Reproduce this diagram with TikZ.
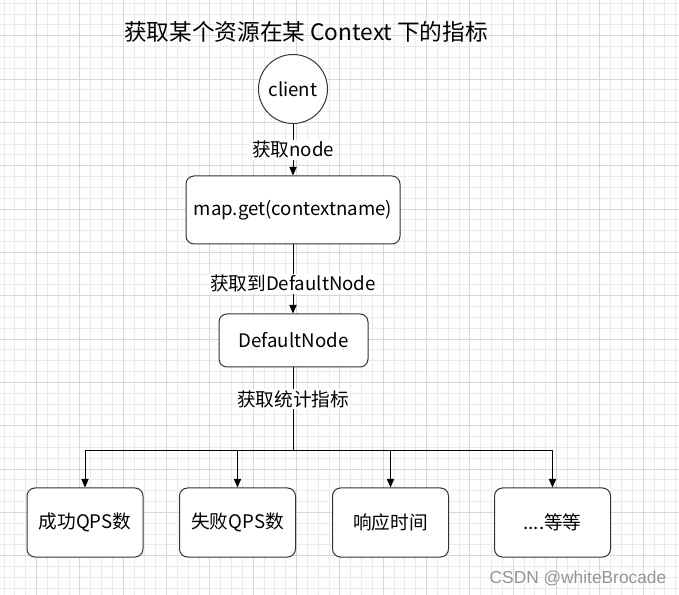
\documentclass[tikz,border=0pt]{standalone}
\usepackage{fontspec}
\setmainfont{Noto Sans CJK SC}
\newfontfamily\wmfont{Liberation Sans}
\usetikzlibrary{arrows.meta}
\definecolor{minorgrid}{HTML}{EBEBEB}
\definecolor{majorgrid}{HTML}{D8D8D8}
\definecolor{edgecol}{HTML}{333333}
\begin{document}
\begin{tikzpicture}[x=0.75pt,y=-0.75pt,
  txt/.style={font=\fontsize{14}{16}\selectfont},
  circ/.style={circle,draw=edgecol,line width=0.75pt,fill=white,minimum size=51.75pt,inner sep=0pt,txt},
  rbox/.style={rectangle,rounded corners=6pt,draw=edgecol,line width=0.75pt,fill=white,inner sep=0pt,txt},
  leaf/.style={rbox,minimum width=87pt,minimum height=51.75pt},
  lbl/.style={fill=white,inner sep=1pt,txt},
  arr/.style={draw=black,line width=0.75pt,-{Triangle[length=6.5pt,width=5.5pt]}},
  ln/.style={draw=black,line width=0.75pt}]
\useasboundingbox (0,0) rectangle (679,595);
\fill[white] (0,0) rectangle (679,595);
% grid (1px strips snapped to pixel rows/columns)
\foreach \k in {1,...,63} {\pgfmathsetmacro{\gx}{round(-7.33+10.8333*\k)}\fill[minorgrid] (\gx,0) rectangle (\gx+1,595);}
\foreach \k in {1,...,55} {\pgfmathsetmacro{\gy}{round(-8+10.8333*\k)}\fill[minorgrid] (0,\gy) rectangle (679,\gy+1);}
\foreach \k in {1,...,15} {\pgfmathsetmacro{\gx}{round(-7.33+43.3333*\k)}\fill[majorgrid] (\gx,0) rectangle (\gx+1,595);}
\foreach \k in {1,...,13} {\pgfmathsetmacro{\gy}{round(-8+43.3333*\k)}\fill[majorgrid] (0,\gy) rectangle (679,\gy+1);}
% title
\node[font=\fontsize{17}{19}\selectfont] (title) at (306,32) {获取某个资源在某 Context 下的指标};
% nodes
\node[circ] (client) at (293,89) {client};
\node[rbox,minimum width=160.5pt,minimum height=51pt] (map) at (293,210) {map.get(contextname)};
\node[rbox,minimum width=111.75pt,minimum height=39.75pt] (dnode) at (293.5,340.5) {DefaultNode};
\node[leaf] (b1) at (85,522.5) {成功QPS数};
\node[leaf] (b2) at (237.5,522.5) {失败QPS数};
\node[leaf] (b3) at (390.5,522.5) {响应时间};
\node[leaf] (b4) at (552.5,522.5) {....等等};
\coordinate (j) at (293,451);
% connectors
\draw[arr] (client) -- node[lbl,pos=0.5] (l1) {获取node} (map);
\draw[arr] (map.south -| client) -- node[lbl,pos=0.57] (l2) {获取到DefaultNode} (dnode.north -| client);
\draw[ln] (dnode.south -| j) -- node[lbl,pos=0.38] (l3) {获取统计指标} (j);
\draw[arr] (j) -| (b1.north);
\draw[arr] (j) -| (b2.north);
\draw[arr] (j) -| (b3.north);
\draw[arr] (j) -| (b4.north);
% watermark
\node[text=black!42,font=\fontsize{13}{15}\wmfont] (wm) at (578,578) {CSDN @whiteBrocade};
\end{tikzpicture}
\end{document}
